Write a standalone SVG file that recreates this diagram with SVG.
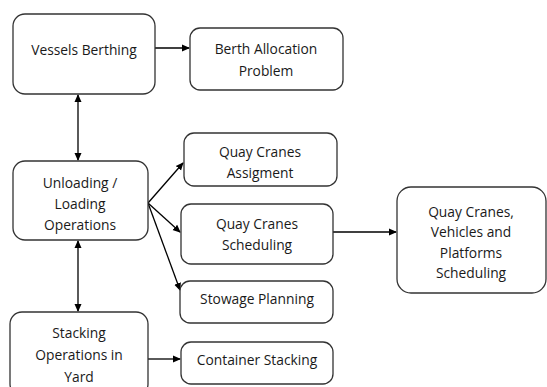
<svg xmlns="http://www.w3.org/2000/svg" width="547" height="387" viewBox="0 0 547 387">
<style>
.box{fill:#fff;stroke:#333;stroke-width:1.3}
.t{font-family:"Open Sans","Liberation Sans",sans-serif;font-size:13.8px;fill:#1a1a1a;text-anchor:middle;dominant-baseline:central}
.c{stroke:#000;stroke-width:1.3;fill:none}
</style>
<defs>
<marker id="ah" markerWidth="8" markerHeight="8" refX="7" refY="4" orient="auto-start-reverse" markerUnits="userSpaceOnUse">
<path d="M0,0.5 L8,4 L0,7.5 z" fill="#000"/>
</marker>
</defs>
<rect width="547" height="387" fill="#fff"/>
<g id="connectors">
<line class="c" x1="155" y1="48" x2="189" y2="48" marker-end="url(#ah)"/>
<line class="c" x1="78" y1="95" x2="78" y2="160" marker-start="url(#ah)" marker-end="url(#ah)"/>
<line class="c" x1="78" y1="241" x2="78" y2="311" marker-start="url(#ah)" marker-end="url(#ah)"/>
<line class="c" x1="148" y1="203" x2="183" y2="163" marker-end="url(#ah)"/>
<line class="c" x1="148" y1="203" x2="180" y2="232" marker-end="url(#ah)"/>
<line class="c" x1="148" y1="203" x2="180" y2="290" marker-end="url(#ah)"/>
<line class="c" x1="333" y1="232" x2="396" y2="232" marker-end="url(#ah)"/>
<line class="c" x1="148" y1="359" x2="180" y2="359" marker-end="url(#ah)"/>
</g>
<g id="vessels">
<rect class="box" x="13" y="14" width="142" height="80" rx="12"/>
<text class="t" x="84" y="49">Vessels Berthing</text>
</g>
<g id="berth">
<rect class="box" x="190" y="28" width="153" height="62" rx="10"/>
<text class="t" x="266" y="48">Berth Allocation</text>
<text class="t" x="266" y="70">Problem</text>
</g>
<g id="unloading">
<rect class="box" x="13" y="161" width="135" height="79" rx="12"/>
<text class="t" x="80" y="182">Unloading /</text>
<text class="t" x="80" y="203">Loading</text>
<text class="t" x="80" y="224">Operations</text>
</g>
<g id="qca">
<rect class="box" x="184" y="133" width="153" height="53" rx="10"/>
<text class="t" x="260" y="151">Quay Cranes</text>
<text class="t" x="260" y="172">Assigment</text>
</g>
<g id="qcs">
<rect class="box" x="181" y="204" width="152" height="60" rx="10"/>
<text class="t" x="257" y="223">Quay Cranes</text>
<text class="t" x="257" y="244">Scheduling</text>
</g>
<g id="stowage">
<rect class="box" x="180" y="281" width="153" height="42" rx="10"/>
<text class="t" x="257" y="298">Stowage Planning</text>
</g>
<g id="stacking">
<rect class="box" x="10" y="312" width="138" height="84" rx="12"/>
<text class="t" x="79" y="332">Stacking</text>
<text class="t" x="79" y="354">Operations in</text>
<text class="t" x="79" y="376">Yard</text>
</g>
<g id="container">
<rect class="box" x="181" y="342" width="152" height="42" rx="10"/>
<text class="t" x="257" y="359">Container Stacking</text>
</g>
<g id="qcvp">
<rect class="box" x="397" y="187" width="149" height="106" rx="14"/>
<text class="t" x="471" y="211">Quay Cranes,</text>
<text class="t" x="471" y="231">Vehicles and</text>
<text class="t" x="471" y="252">Platforms</text>
<text class="t" x="471" y="272">Scheduling</text>
</g>
</svg>
